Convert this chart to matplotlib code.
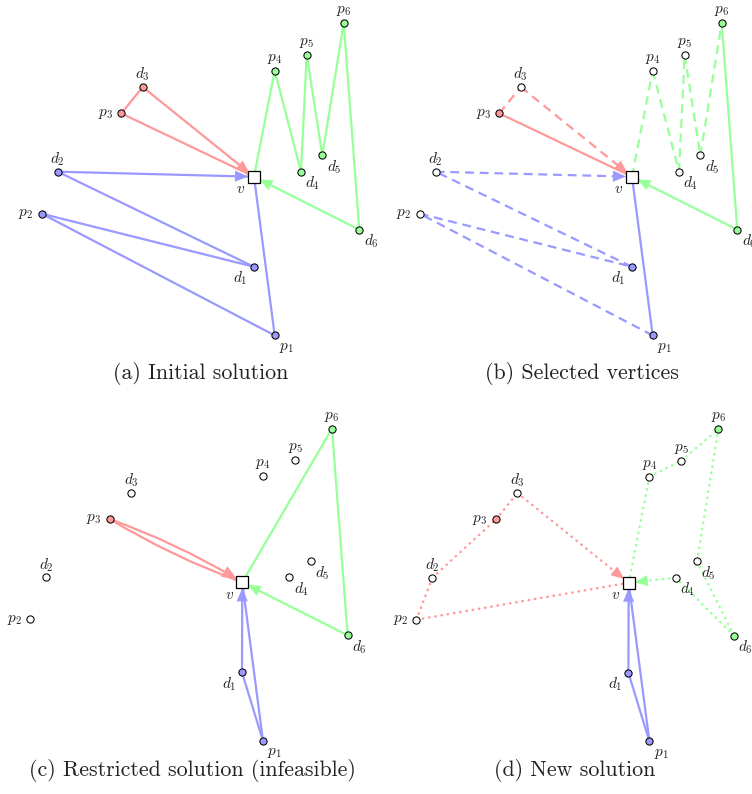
import matplotlib
matplotlib.use("Agg")
import matplotlib.pyplot as plt
from matplotlib.patches import FancyArrowPatch

plt.rcParams['mathtext.fontset'] = 'cm'

# ---- data: node coordinates (drawing units, depot v at origin, y up) ----
node_names = ["v", "p1", "d1", "p2", "d2", "p3", "d3", "p4", "d4", "p5", "d5", "p6", "d6"]
node_x = [0.0, 20.7, -0.3, -212.3, -196.3, -132.7, -111.3, 20.7, 47.0, 52.7, 68.3, 89.7, 105.3]
node_y = [0.0, -158.7, -90.0, -37.0, 5.0, 63.3, 89.7, 106.0, 5.0, 122.0, 21.3, 153.7, -53.0]
node_labels = [r"$v$", r"$p_1$", r"$d_1$", r"$p_2$", r"$d_2$", r"$p_3$", r"$d_3$",
               r"$p_4$", r"$d_4$", r"$p_5$", r"$d_5$", r"$p_6$", r"$d_6$"]
node_label_side = ["below left", "below right", "below left", "left", "above", "left", "above",
                   "above", "below right", "above", "below right", "above", "below right"]
node_route = [None, "blue", "blue", "blue", "blue", "red", "red",
              "green", "green", "green", "green", "green", "green"]

captions = ["(a) Initial solution", "(b) Selected vertices",
            "(c) Restricted solution (infeasible)", "(d) New solution"]

# routes per panel: (colour, node sequence, segment styles, bend)
panel_routes = [
    [("red", ["v", "p3", "d3", "v"], ["-", "-", "-"], 0),
     ("blue", ["v", "p1", "p2", "d1", "d2", "v"], ["-", "-", "-", "-", "-"], 0),
     ("green", ["v", "p4", "d4", "p5", "d5", "p6", "d6", "v"], ["-"] * 7, 0)],
    [("red", ["v", "p3", "d3", "v"], ["-", "--", "--"], 0),
     ("blue", ["v", "p1", "p2", "d1", "d2", "v"], ["-", "--", "--", "--", "--"], 0),
     ("green", ["v", "p4", "d4", "p5", "d5", "p6", "d6", "v"],
      ["--", "--", "--", "--", "--", "-", "-"], 0)],
    [("red", ["v", "p3", "v"], ["-", "-"], -0.05),
     ("blue", ["v", "p1", "d1", "v"], ["-", "-", "-"], 0),
     ("green", ["v", "p6", "d6", "v"], ["-", "-", "-"], 0)],
    [("red", ["v", "p2", "d2", "p3", "d3", "v"], [":"] * 5, 0),
     ("blue", ["v", "p1", "d1", "v"], ["-", "-", "-"], 0),
     ("green", ["v", "p4", "p5", "p6", "d5", "d6", "d4", "v"], [":"] * 7, 0)],
]
# filled nodes per panel
panel_filled = [
    ["p1", "d1", "p2", "d2", "p3", "d3", "p4", "d4", "p5", "d5", "p6", "d6"],
    ["p1", "d1", "p3", "p6", "d6"],
    ["p1", "d1", "p3", "p6", "d6"],
    ["p1", "d1", "p3", "p6", "d6"],
]

# ---- styling ----
colors = {"red": "#ff9999", "blue": "#9999ff", "green": "#99ff99"}
LW = 1.6
line_styles = {"-": "-", "--": (0, (4.0, 2.6)), ":": (0, (0.2, 2.4))}
line_widths = {"-": LW, "--": LW, ":": 1.75}
label_offsets = {"above": (0, 9.0, "center", "center"),
                 "left": (-11.5, 0, "center", "center"),
                 "below right": (8.5, -8.5, "center", "center"),
                 "below left": (-9.5, -8.5, "center", "center")}

# panel layout in pixels: quadrant origin and depot centre
W, H = 752, 794
quadrants = [(0, 0), (376, 0), (0, 397), (376, 397)]
depots = [(254.0, 176.7), (632.0, 176.7), (242.3, 582.3), (628.7, 582.7)]
caption_pos = [(200.8, 379.5), (581.8, 379.5), (192.5, 776.5), (574.3, 776.5)]

fig = plt.figure(figsize=(W / 100, H / 100), dpi=100)
pos = {n: (x, y) for n, x, y in zip(node_names, node_x, node_y)}

for i in range(4):
    ox, oy = quadrants[i]
    vx, vy = depots[i]
    ax = fig.add_axes([ox / W, 1 - (oy + 397) / H, 376 / W, 397 / H])
    ax.set_xlim(ox - vx, ox + 376 - vx)
    ax.set_ylim(vy - oy - 397, vy - oy)
    ax.axis("off")

    for col, seq, styles, bend in panel_routes[i]:
        c = colors[col]
        nseg = len(seq) - 1
        for k in range(nseg):
            a, b = pos[seq[k]], pos[seq[k + 1]]
            last = (k == nseg - 1)
            if bend != 0:
                arr = FancyArrowPatch(a, b, connectionstyle=f"arc3,rad={bend}",
                                      arrowstyle="-|>,head_length=0.8,head_width=0.32" if last else "-",
                                      mutation_scale=10, lw=LW, color=c,
                                      shrinkA=0, shrinkB=4.2 if last else 0, zorder=1,
                                      capstyle="round", joinstyle="miter")
                ax.add_patch(arr)
                continue
            st = styles[k]
            ax.plot([a[0], b[0]], [a[1], b[1]], color=c, lw=line_widths[st],
                    linestyle=line_styles[st], zorder=1,
                    solid_capstyle="round",
                    dash_capstyle="round" if st == ":" else "butt")
            if last:
                head = FancyArrowPatch(a, b, arrowstyle="-|>,head_length=0.95,head_width=0.4",
                                       mutation_scale=10, lw=0, color=c,
                                       shrinkA=0, shrinkB=4.2, zorder=2)
                ax.add_patch(head)

    filled = panel_filled[i]
    for n, lab, side, route in zip(node_names, node_labels, node_label_side, node_route):
        x, y = pos[n]
        if n == "v":
            ax.plot([x], [y], marker="s", ms=8, mfc="white", mec="black", mew=0.9, zorder=5)
        else:
            fc = colors[route] if n in filled else "white"
            ax.plot([x], [y], marker="o", ms=5.2, mfc=fc, mec="black", mew=0.75, zorder=4)
        dx, dy, ha, va = label_offsets[side]
        ax.annotate(lab, (x, y), xytext=(dx, dy), textcoords="offset points",
                    ha=ha, va=va, fontsize=11, color="#222222", zorder=6)

for (cx, cy), cap in zip(caption_pos, captions):
    fig.text(cx / W, 1 - cy / H, cap, ha="center", va="baseline",
             fontsize=15.8, family="cmr10", color="#222222")

fig.savefig("out.png", dpi=100)
